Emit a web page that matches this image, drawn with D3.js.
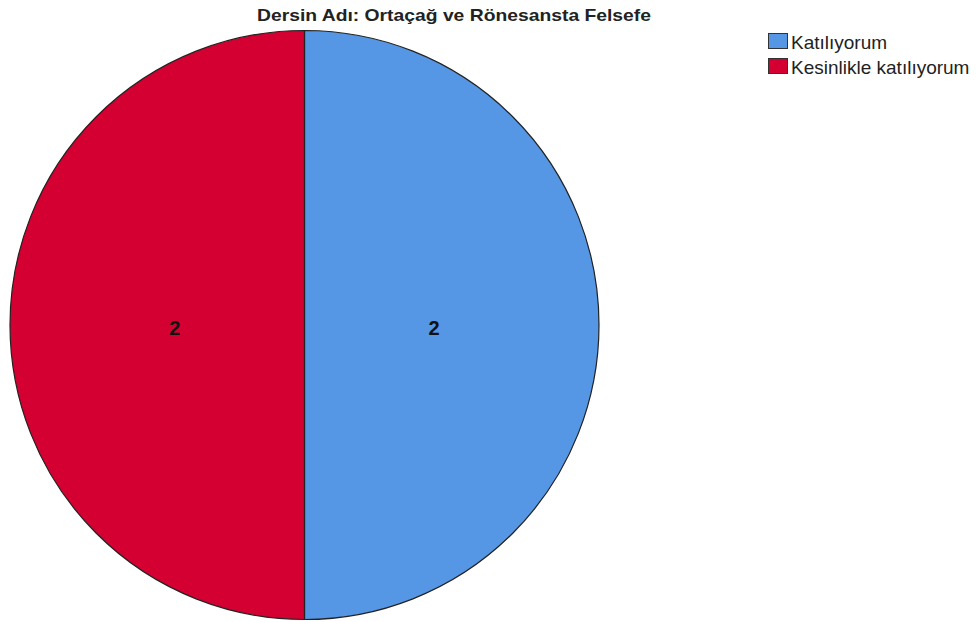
<!DOCTYPE html>
<html><head><meta charset="utf-8">
<script src="https://cdn.jsdelivr.net/npm/d3@7"></script>
<style>body{margin:0;background:#fff}</style>
</head><body>
<svg id="c" width="976" height="622"></svg>
<script>
const categories = ["Katılıyorum", "Kesinlikle katılıyorum"];
const values = [2, 2];
const colors = ["#5596E5", "#D50032"];
const title = "Dersin Adı: Ortaçağ ve Rönesansta Felsefe";

const svg = d3.select("#c");
const cx = 304.5, cy = 325, r = 294.5;
svg.append("text").attr("x", 454).attr("y", 21).attr("text-anchor", "middle")
  .attr("font-family", "Liberation Sans, Arial, sans-serif").attr("font-weight", "bold")
  .attr("font-size", 17).attr("textLength", 394).attr("lengthAdjust", "spacingAndGlyphs")
  .attr("fill", "#222").text(title);

const pie = d3.pie().sort(null).startAngle(0).endAngle(2*Math.PI)(values);
const arc = d3.arc().innerRadius(0).outerRadius(r);
const g = svg.append("g").attr("transform", `translate(${cx},${cy})`);
g.selectAll("path").data(pie).join("path")
  .attr("d", arc).attr("fill", (d,i)=>colors[i])
  .attr("stroke", "#222").attr("stroke-width", 1.2);
const lab = d3.arc().innerRadius(r*0.44).outerRadius(r*0.44);
g.selectAll("text").data(pie).join("text")
  .attr("transform", d => `translate(${lab.centroid(d)})`)
  .attr("dy", "0.5em").attr("text-anchor", "middle")
  .attr("font-family", "Liberation Sans, Arial, sans-serif").attr("font-weight", "bold")
  .attr("font-size", 20).attr("fill", "#111").text(d => d.value);

const lg = svg.append("g");
categories.forEach((c,i)=>{
  const y = 33 + i*25;
  lg.append("rect").attr("x", 768.5).attr("y", y+0.5).attr("width", 19).attr("height", 15)
    .attr("fill", colors[i]).attr("stroke", "#333").attr("stroke-width", 1);
  lg.append("text").attr("x", 791).attr("y", y+16)
    .attr("font-family", "Liberation Sans, Arial, sans-serif").attr("font-size", 19)
    .attr("fill", "#222").text(c);
});
</script>
</body></html>
